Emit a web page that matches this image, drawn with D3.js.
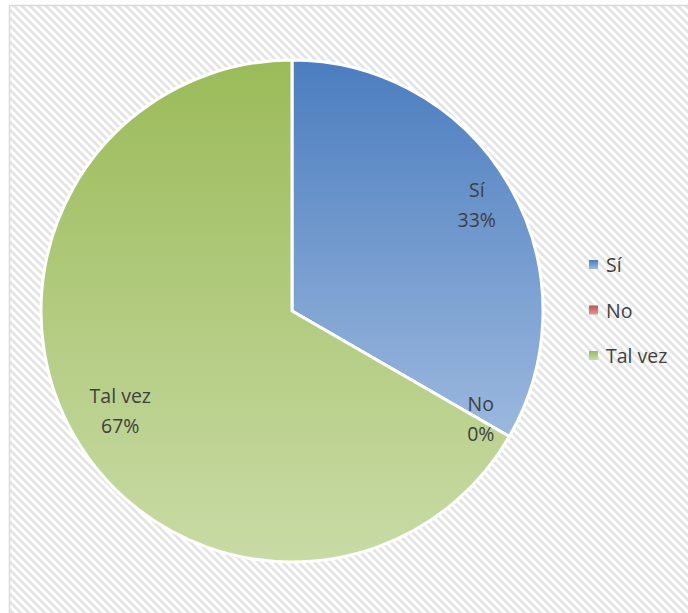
<!DOCTYPE html>
<html>
<head>
<meta charset="utf-8">
<script src="https://cdn.jsdelivr.net/npm/d3@7"></script>
<style>
  html, body { margin: 0; padding: 0; background: #ffffff; }
  svg { display: block; }
</style>
</head>
<body>
<svg id="chart" width="688" height="613"></svg>
<script>
// Answers and how many times each was given
const categories = ["Sí", "No", "Tal vez"];
const counts = [1, 0, 2];
const percentLabels = ["33%", "0%", "67%"];

// Fill ramps per slice (top colour, bottom colour)
const sliceTop = ["#4b7dbf", "#c0504d", "#9bbb59"];
const sliceBottom = ["#9cb8de", "#dc9a98", "#c9dba6"];

const W = 688, H = 613;
const svg = d3.select("#chart");
const defs = svg.append("defs");

// diagonal hatch for the chart background
const hatch = defs.append("pattern")
  .attr("id", "hatch")
  .attr("patternUnits", "userSpaceOnUse")
  .attr("width", 8).attr("height", 8);
hatch.append("rect").attr("width", 8).attr("height", 8).attr("fill", "#ffffff");
hatch.append("path")
  .attr("d", "M-2,-2 L10,10 M-2,6 L2,10 M6,-2 L10,2")
  .attr("stroke", "#e4e4e4")
  .attr("stroke-width", 2.8);

categories.forEach((c, i) => {
  const g = defs.append("linearGradient")
    .attr("id", "grad" + i)
    .attr("x1", 0).attr("y1", 0).attr("x2", 0).attr("y2", 1);
  g.append("stop").attr("offset", "0%").attr("stop-color", sliceTop[i]);
  g.append("stop").attr("offset", "100%").attr("stop-color", sliceBottom[i]);
});

// chart area with border
svg.append("rect")
  .attr("x", 9.5).attr("y", 5.5)
  .attr("width", W + 20).attr("height", H + 20)
  .attr("fill", "url(#hatch)")
  .attr("stroke", "#d9d9d9")
  .attr("stroke-width", 1.5);

const cx = 292, cy = 311, R = 251;
const pie = d3.pie().sort(null).value(d => d)(counts);
const arc = d3.arc().innerRadius(0).outerRadius(R);

// large slices get their label pulled a little further in
const labelRadius = d => (d.endAngle - d.startAngle > Math.PI ? 0.79 : 0.85) * R;

const g = svg.append("g").attr("transform", `translate(${cx},${cy})`);

g.selectAll("path.slice")
  .data(pie)
  .join("path")
  .attr("class", "slice")
  .attr("d", arc)
  .attr("fill", (d, i) => `url(#grad${i})`)
  .attr("stroke", "#ffffff")
  .attr("stroke-width", 3)
  .attr("stroke-linejoin", "round");

const font = "'Open Sans', Lato, sans-serif";
const fs = 19.5;

// data labels: category on first line, percentage below
const labels = g.selectAll("g.lbl")
  .data(pie)
  .join("g")
  .attr("class", "lbl")
  .attr("transform", d => {
    const r = labelRadius(d);
    const [x, y] = d3.arc().innerRadius(r).outerRadius(r).centroid(d);
    return `translate(${x + (d.value === 0 ? 4 : 0)},${y})`;
  });
labels.append("text")
  .attr("text-anchor", "middle")
  .attr("y", -7)
  .attr("font-family", font)
  .attr("font-size", fs)
  .attr("fill", "#404040")
  .text((d, i) => categories[i]);
labels.append("text")
  .attr("text-anchor", "middle")
  .attr("y", 23)
  .attr("font-family", font)
  .attr("font-size", fs)
  .attr("fill", "#404040")
  .text((d, i) => percentLabels[i]);

// legend
const legend = svg.append("g").attr("transform", "translate(589,265)");
const item = legend.selectAll("g")
  .data(categories)
  .join("g")
  .attr("transform", (d, i) => `translate(0,${i * 45.5})`);
item.append("rect")
  .attr("x", 0).attr("y", -5)
  .attr("width", 9).attr("height", 9)
  .attr("fill", (d, i) => `url(#grad${i})`);
item.append("text")
  .attr("x", 17).attr("y", 7)
  .attr("font-family", font)
  .attr("font-size", fs)
  .attr("fill", "#404040")
  .text(d => d);
</script>
</body>
</html>
